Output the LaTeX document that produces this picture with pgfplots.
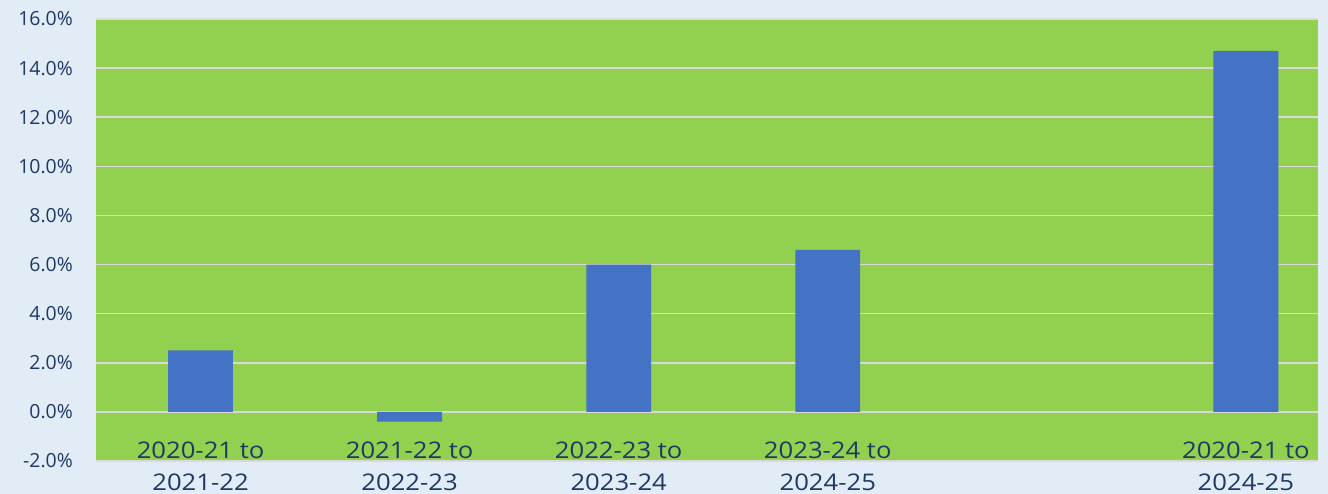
\documentclass[border=0pt]{standalone}
\usepackage{pgfplots}
\pgfplotsset{compat=1.18}
\usepackage{fontspec}
\setmainfont{Open Sans}
\newfontfamily\catfont{Open Sans}[FakeStretch=1.12]
\definecolor{bgblue}{HTML}{E1ECF7}
\definecolor{plotgreen}{HTML}{92D050}
\definecolor{barblue}{HTML}{4472C4}
\definecolor{gridgray}{HTML}{D9D9D9}
\definecolor{labelnavy}{HTML}{1F3864}

\begin{document}
\begin{tikzpicture}
% page background
\fill[bgblue] (0,0) rectangle (1328bp,494bp);
\useasboundingbox (0,0) rectangle (1328bp,494bp);
\begin{axis}[
  at={(96bp,33bp)}, anchor=south west,
  width=1222bp, height=442bp, scale only axis,
  xmin=-0.5, xmax=5.345, ymin=-2, ymax=16,
  axis background/.style={fill=plotgreen},
  axis line style={draw=none},
  tick style={draw=none},
  ymajorgrids, grid style={gridgray, line width=1.5bp},
  ytick={-2,0,2,4,6,8,10,12,14,16},
  yticklabels={-2.0\%,0.0\%,2.0\%,4.0\%,6.0\%,8.0\%,10.0\%,12.0\%,14.0\%,16.0\%},
  yticklabel style={anchor=east, inner sep=0pt, xshift=-23bp,
    font=\fontsize{19.5}{22}\selectfont, text=labelnavy},
  xtick={0,1,2,3,5},
  xticklabels={{2020-21 to\\2021-22},{2021-22 to\\2022-23},{2022-23 to\\2023-24},
    {2023-24 to\\2024-25},{2020-21 to\\2024-25}},
  xticklabel style={anchor=north, inner sep=0pt, yshift=24bp, align=center,
    font=\catfont\fontsize{23}{32.5}\selectfont, text=labelnavy},
  ybar, bar width=0.31,
]
\addplot[fill=barblue, draw=none] coordinates {
  (0,2.5) (1,-0.4) (2,6.0) (3,6.6) (5,14.7)
};
\end{axis}
\end{tikzpicture}
\end{document}
